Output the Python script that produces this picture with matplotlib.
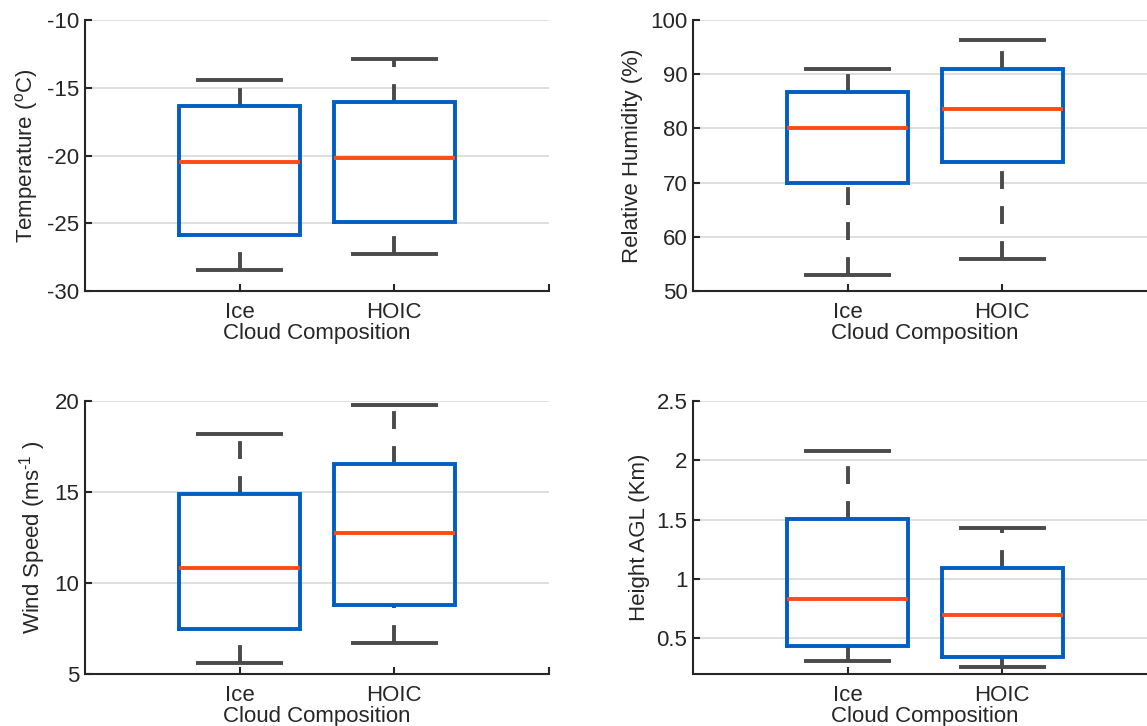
import numpy as np
import matplotlib
matplotlib.use("Agg")
import matplotlib.pyplot as plt

plt.rcParams['font.family'] = ['Liberation Sans', 'DejaVu Sans']
plt.rcParams['mathtext.fontset'] = 'custom'
plt.rcParams['mathtext.rm'] = 'Liberation Sans'

categories = ['Ice', 'HOIC']
xlabel = 'Cloud Composition'

# per panel: [lower whisker, q1, median, q3, upper whisker] for Ice, HOIC
temp_stats = [[-28.45, -25.85, -20.5, -16.35, -14.4],
              [-27.25, -24.9, -20.2, -16.05, -12.85]]
rh_stats = [[53.0, 70.0, 80.0, 86.7, 91.0],
            [55.9, 73.8, 83.6, 91.0, 96.3]]
ws_stats = [[5.6, 7.5, 10.8, 14.9, 18.2],
            [6.7, 8.8, 12.75, 16.55, 19.8]]
hgt_stats = [[0.31, 0.44, 0.83, 1.505, 2.08],
             [0.26, 0.34, 0.70, 1.095, 1.43]]

panels = [
    (temp_stats, 'Temperature ($^{\\rm o}$C)', (-30, -10), [-30, -25, -20, -15, -10]),
    (rh_stats, 'Relative Humidity (%)', (50, 100), [50, 60, 70, 80, 90, 100]),
    (ws_stats, 'Wind Speed (ms$^{\\text{-1}}$ )', (5, 20), [5, 10, 15, 20]),
    (hgt_stats, 'Height AGL (Km)', (0.2, 2.5), [0.5, 1, 1.5, 2, 2.5]),
]

W, H = 1147, 726
fig = plt.figure(figsize=(W / 100, H / 100), dpi=100)

# axes boxes in pixels: left, top, right, bottom
boxes = [(85, 20, 549, 291), (693, 20, 1157, 291),
         (85, 401, 549, 674), (693, 401, 1157, 674)]

BLUE = '#005DC2'
ORANGE = '#FF4B16'
GREY = '#4A4A4A'
TXT = '#262626'
lw = 2.8
dash = (0, (4.6, 4.4))
fs = 16

for (stats, ylab, ylim, yticks), (l, t, r, b) in zip(panels, boxes):
    ax = fig.add_axes([l / W, 1 - b / H, (r - l) / W, (b - t) / H])
    for i, s in enumerate(stats):
        x = i + 1
        lo, q1, med, q3, hi = s
        bw = 0.39
        cw = 0.28
        # whiskers
        ax.plot([x, x], [q3, hi], color=GREY, lw=lw, ls=dash, dash_capstyle='butt', zorder=2)
        ax.plot([x, x], [lo, q1], color=GREY, lw=lw, ls=dash, dash_capstyle='butt', zorder=2)
        ax.plot([x - cw, x + cw], [hi, hi], color=GREY, lw=lw, solid_capstyle='butt', zorder=2)
        ax.plot([x - cw, x + cw], [lo, lo], color=GREY, lw=lw, solid_capstyle='butt', zorder=2)
        # box
        ax.plot([x - bw, x + bw, x + bw, x - bw, x - bw], [q1, q1, q3, q3, q1],
                color=BLUE, lw=lw, solid_joinstyle='miter', zorder=3)
        ax.plot([x - bw, x + bw], [med, med], color=ORANGE, lw=lw,
                solid_capstyle='butt', zorder=4)

    ax.set_xlim(0, 3)
    ax.set_ylim(*ylim)
    ax.set_yticks(yticks)
    ax.set_yticklabels([('%g' % v) for v in yticks])
    ax.set_xticks([1, 2, 3])
    ax.set_xticklabels(categories + [''])
    ax.yaxis.grid(True, color='#DCDCDC', lw=1.3)
    ax.set_axisbelow(True)
    for sp in ['top', 'right']:
        ax.spines[sp].set_visible(False)
    for sp in ['left', 'bottom']:
        ax.spines[sp].set_color(TXT)
        ax.spines[sp].set_linewidth(1.5)
    ax.tick_params(direction='in', length=5, width=1.5, color=TXT,
                   labelsize=fs, labelcolor=TXT, pad=4)
    ax.tick_params(axis='x', pad=8)
    ax.set_ylabel(ylab, fontsize=fs, color=TXT, labelpad=5)
    ax.set_xlabel(xlabel, fontsize=fs, color=TXT, labelpad=0)

fig.savefig('out.png', dpi=100)
